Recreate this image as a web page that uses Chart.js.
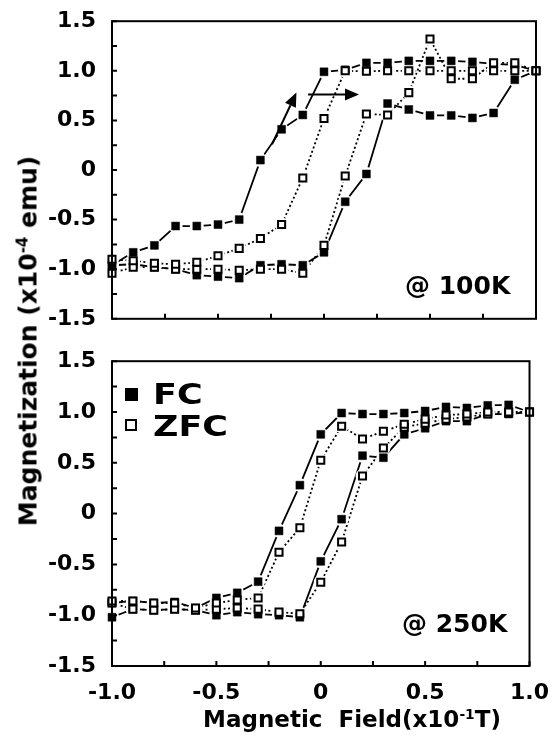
<!DOCTYPE html>
<html>
<head>
<meta charset="utf-8">
<script src="https://cdn.jsdelivr.net/npm/chart.js@4.4.0/dist/chart.umd.min.js"></script>
<style>
  body { margin: 0; background: #fff; }
  #wrap { position: relative; width: 555px; height: 740px; overflow: hidden;
          font-family: "DejaVu Sans", sans-serif; font-weight: bold; color: #000; }
  canvas { position: absolute; left: 0; }
  #chartTop { top: 0; }
  #chartBottom { top: 340px; }
  .lbl { position: absolute; white-space: nowrap; line-height: 1; }
  .lbl sup { font-size: 0.6em; vertical-align: 0.6em; line-height: 0; }
  .sq { position: absolute; box-sizing: border-box; }
</style>
</head>
<body>
<div id="wrap">
  <canvas id="chartTop" width="555" height="340"></canvas>
  <canvas id="chartBottom" width="555" height="400"></canvas>

  <div class="lbl" id="yTitle" style="left:28px; top:341px; font-size:25px; transform:translate(-50%,-50%) rotate(-90deg);">Magnetization (x10<sup>-4</sup> emu)</div>
  <div class="lbl" id="xTitle" style="left:352px; top:708px; font-size:23px; transform:translateX(-50%);">Magnetic&nbsp;&nbsp;Field(x10<sup>-1</sup>T)</div>

  <div class="lbl" style="left:405px; top:273px; font-size:25px;">@ 100K</div>
  <div class="lbl" style="left:402px; top:611px; font-size:25px;">@ 250K</div>

  <!-- legend -->
  <div class="sq" style="left:125px; top:388px; width:13px; height:13px; background:#000;"></div>
  <div class="lbl" style="left:153px; top:381px; font-size:28px; transform:scaleX(1.25); transform-origin:left top;">FC</div>
  <div class="sq" style="left:125px; top:419px; width:12px; height:12px; border:2px solid #000; background:#fff;"></div>
  <div class="lbl" style="left:153px; top:413px; font-size:28px; transform:scaleX(1.25); transform-origin:left top;">ZFC</div>
</div>

<script>
// applied field, x10^-1 T
const FIELD = [-1.0, -0.9, -0.8, -0.7, -0.6, -0.5, -0.4, -0.3, -0.2, -0.1, 0.0,
               0.1, 0.2, 0.3, 0.4, 0.5, 0.6, 0.7, 0.8, 0.9, 1.0];

// magnetization at 100 K, x10^-4 emu
const FC_UP_100   = [-0.96, -0.83, -0.76, -0.565, -0.565, -0.55, -0.50, 0.10, 0.41, 0.555, 0.99,
                     1.01, 1.08, 1.08, 1.10, 1.10, 1.10, 1.09, 1.07, 1.06, 1.00];
const FC_DOWN_100 = [-0.96, -0.95, -0.98, -1.00, -1.06, -1.075, -1.09, -0.96, -0.95, -0.96, -0.83,
                     -0.32, -0.04, 0.67, 0.61, 0.55, 0.55, 0.525, 0.575, 0.91, 1.00];
const ZFC_UP_100  = [-0.90, -0.915, -0.94, -0.95, -0.93, -0.865, -0.79, -0.69, -0.55, -0.08, 0.52,
                     1.00, 0.995, 1.00, 1.00, 1.00, 1.00, 1.00, 1.00, 1.00, 1.00];
const ZFC_DOWN_100 = [-1.04, -0.98, -0.98, -1.00, -1.00, -1.00, -1.01, -1.00, -1.00, -1.04, -0.76,
                      -0.06, 0.565, 0.555, 0.78, 1.32, 0.92, 0.92, 1.08, 1.08, 1.00];

// magnetization at 250 K
const FC_UP_250   = [-0.88, -0.86, -0.88, -0.87, -0.93, -0.83, -0.78, -0.67, -0.17, 0.28, 0.78,
                     0.99, 0.98, 0.98, 0.99, 1.01, 1.05, 1.04, 1.065, 1.07, 1.00];
const FC_DOWN_250 = [-1.02, -0.94, -0.95, -0.94, -0.95, -1.00, -0.97, -0.99, -1.00, -1.02, -0.47,
                     -0.055, 0.57, 0.55, 0.78, 0.84, 0.91, 0.91, 0.98, 0.98, 1.00];
const ZFC_UP_250  = [-0.86, -0.86, -0.88, -0.88, -0.93, -0.88, -0.85, -0.83, -0.38, -0.14, 0.525,
                     0.86, 0.735, 0.81, 0.88, 0.93, 0.97, 0.98, 1.00, 1.00, 1.00];
const ZFC_DOWN_250 = [-0.88, -0.94, -0.95, -0.94, -0.95, -0.94, -0.93, -0.94, -0.97, -0.985, -0.675,
                      -0.28, 0.37, 0.645, 0.85, 0.89, 0.93, 0.95, 0.98, 0.99, 1.00];

// sweep-direction arrows on the 100 K loop, [x, y] in data units
const ARROWS_100 = [
  { from: [-0.245, 0.26], to: [-0.13, 0.78] },
  { from: [-0.075, 0.76], to: [0.165, 0.76] },
];

const X_LABELS = { "-1": "-1.0", "-0.5": "-0.5", "0": "0", "0.5": "0.5", "1": "1.0" };

function points(ys) {
  return FIELD.map((x, i) => ({ x, y: ys[i] }));
}

// line, white gap round each symbol, then the symbols on top
function series(ys, filled) {
  const data = points(ys);
  return [
    { data, showLine: true, borderColor: "#000", borderWidth: 1.8,
      borderDash: filled ? [] : [2, 2.5], pointRadius: 0, order: 3, clip: false },
    { data, showLine: false, pointRadius: 7, pointBackgroundColor: "#fff",
      pointBorderWidth: 0, order: 2, clip: false },
    { data, showLine: false, pointStyle: "rect",
      pointRadius: filled ? 5.6 : 5, pointBackgroundColor: filled ? "#000" : "#fff",
      pointBorderColor: "#000", pointBorderWidth: filled ? 0.5 : 2,
      order: filled ? 1 : 0, clip: false },
  ];
}

// box frame, inward ticks every 0.25 and arrows
const framePlugin = {
  id: "frame",
  afterDatasetsDraw(chart, args, opts) {
    const { ctx, chartArea: a, scales } = chart;
    const xs = scales.x, ys = scales.y;
    ctx.save();
    ctx.strokeStyle = "#000";
    ctx.fillStyle = "#000";
    ctx.lineWidth = 2;
    ctx.strokeRect(a.left, a.top, a.right - a.left, a.bottom - a.top);

    ctx.beginPath();
    for (let v = -1; v <= 1.0001; v += 0.25) {
      const px = xs.getPixelForValue(v);
      ctx.moveTo(px, a.bottom);
      ctx.lineTo(px, a.bottom - 5);
    }
    for (let v = -1.5; v <= 1.5001; v += 0.25) {
      const py = ys.getPixelForValue(v);
      ctx.moveTo(a.left, py);
      ctx.lineTo(a.left + 5, py);
    }
    ctx.stroke();

    (opts.arrows || []).forEach((ar) => {
      const x0 = xs.getPixelForValue(ar.from[0]), y0 = ys.getPixelForValue(ar.from[1]);
      const x1 = xs.getPixelForValue(ar.to[0]), y1 = ys.getPixelForValue(ar.to[1]);
      const ang = Math.atan2(y1 - y0, x1 - x0);
      const len = 14, half = 6;
      const bx = x1 - len * Math.cos(ang), by = y1 - len * Math.sin(ang);
      ctx.beginPath();
      ctx.moveTo(x0, y0);
      ctx.lineTo(bx, by);
      ctx.stroke();
      ctx.beginPath();
      ctx.moveTo(x1, y1);
      ctx.lineTo(bx + half * Math.sin(ang), by - half * Math.cos(ang));
      ctx.lineTo(bx - half * Math.sin(ang), by + half * Math.cos(ang));
      ctx.closePath();
      ctx.fill();
    });
    ctx.restore();
  },
};

const tickFont = { family: "DejaVu Sans", size: 22, weight: "bold" };

function makeChart(id, sets, cfg) {
  return new Chart(document.getElementById(id), {
    type: "scatter",
    data: { datasets: sets },
    options: {
      responsive: false,
      animation: false,
      devicePixelRatio: 1,
      events: [],
      layout: { padding: cfg.padding },
      plugins: { legend: { display: false }, tooltip: { enabled: false },
                 frame: { arrows: cfg.arrows } },
      scales: {
        x: {
          type: "linear", min: -1, max: 1,
          grid: { display: false }, border: { display: false },
          ticks: {
            display: cfg.xLabels, stepSize: 0.5, padding: 6, color: "#000", font: tickFont,
            maxRotation: 0, autoSkip: false,
            callback: (v) => X_LABELS[String(v)] ?? "",
          },
          afterFit: (s) => { s.height = cfg.xHeight; },
        },
        y: {
          type: "linear", min: -1.5, max: 1.5,
          grid: { display: false }, border: { display: false },
          ticks: {
            stepSize: 0.5, padding: 8, color: "#000", font: tickFont,
            callback: (v) => (v === 0 ? "0" : v.toFixed(1)),
          },
          afterFit: (s) => { s.width = 112; },
        },
      },
    },
    plugins: [framePlugin],
  });
}

makeChart("chartTop", [
  ...series(FC_UP_100, true), ...series(FC_DOWN_100, true),
  ...series(ZFC_UP_100, false), ...series(ZFC_DOWN_100, false),
], { padding: { top: 16, right: 19, bottom: 13, left: 0 }, xLabels: false, xHeight: 0, arrows: ARROWS_100 });

makeChart("chartBottom", [
  ...series(FC_UP_250, true), ...series(FC_DOWN_250, true),
  ...series(ZFC_UP_250, false), ...series(ZFC_DOWN_250, false),
], { padding: { top: 16, right: 24, bottom: 0, left: 0 }, xLabels: true, xHeight: 74, arrows: [] });
</script>
</body>
</html>
